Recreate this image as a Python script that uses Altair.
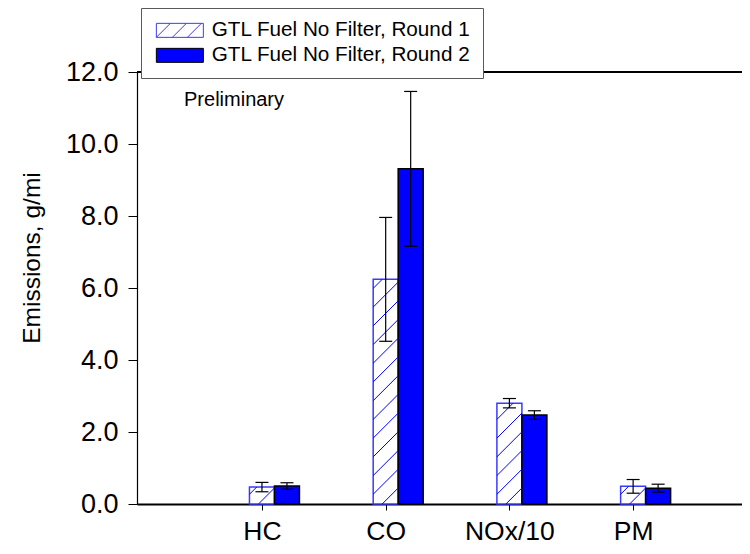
import json
import altair as alt
import pandas as pd

# ---------------- data ----------------
categories = ["HC", "CO", "NOx/10", "PM"]
series = ["GTL Fuel No Filter, Round 1", "GTL Fuel No Filter, Round 2"]
round1 = [0.47, 6.24, 2.80, 0.49]
round1_err = [0.13, 1.72, 0.13, 0.19]
round2 = [0.50, 9.31, 2.47, 0.44]
round2_err = [0.09, 2.15, 0.12, 0.11]
y_ticks = [0, 2, 4, 6, 8, 10, 12]
note = "Preliminary"

rows = []
for i, c in enumerate(categories):
    rows.append({"cat": c, "pos": i + 1, "slot": 0, "series": series[0],
                 "value": round1[i], "err": round1_err[i]})
    rows.append({"cat": c, "pos": i + 1, "slot": 1, "series": series[1],
                 "value": round2[i], "err": round2_err[i]})
df = pd.DataFrame(rows)

# ---------------- style constants ----------------
FONT = "Liberation Sans"
BW = 0.202          # bar width (x units)
CAP = 0.0526        # half width of error-bar caps (x units)
H_STEP = 0.52       # hatch spacing (y units)
H_PHASE = -0.25     # hatch phase (y units)
H_RISE = 0.694      # hatch rise across one bar (y units) -> 45 degrees
BLUE = "#0000ff"
EDGE1 = "#3a3aff"

xs = alt.Scale(domain=[-0.01, 4.88], nice=False, zero=False)
ys = alt.Scale(domain=[0, 12], nice=False)
fill_scale = alt.Scale(domain=series, range=["white", BLUE])
stroke_scale = alt.Scale(domain=series, range=[EDGE1, "black"])

hatch_path = ("M-1,-1H5.714V1H-1Z"
              "M-1,1L1,-1M1.286,1L3.286,-1M3.429,1L5.429,-1")
rect_path = "M-1,-1H5.714V1H-1Z"
shape_scale = alt.Scale(domain=series, range=[hatch_path, rect_path])

label_expr = json.dumps(categories) + "[datum.value - 1]"

x_axis = alt.Axis(values=[1, 2, 3, 4], labelExpr=label_expr, title=None,
                  grid=False, ticks=True, tickSize=6, tickColor="black",
                  tickWidth=1, labelPadding=29, labelBaseline="alphabetic",
                  labelFontSize=26.5,
                  labelFont=FONT, labelColor="black", domainColor="black",
                  domainWidth=2)
y_axis = alt.Axis(values=y_ticks, format=".1f", title="Emissions, g/mi",
                  grid=False, tickSize=9, tickColor="black", tickWidth=1,
                  labelPadding=10, labelFontSize=27, labelFont=FONT,
                  labelColor="black", domainColor="black", domainWidth=1.2,
                  titleFont=FONT, titleFontSize=24.5, titleFontWeight="normal",
                  titleColor="black", titleAngle=270, titleX=-105,
                  titleY=185.5, titleAlign="center", titleBaseline="middle")

leg = alt.Legend(
    orient="none", legendX=4, legendY=-64, title=None,
    labelFont=FONT, labelFontSize=20.7, labelColor="black", labelLimit=400,
    symbolSize=196, symbolStrokeWidth=1, labelOffset=38, rowPadding=3,
    padding=12, strokeColor="#5a5a5a", fillColor="white",
)

base = alt.Chart(df).transform_calculate(
    xl=f"datum.pos - {BW / 2} + datum.slot * {BW}",
).transform_calculate(
    xr=f"datum.xl + {BW}",
    xc=f"datum.xl + {BW / 2}",
    lo="datum.value - datum.err",
    hi="datum.value + datum.err",
).transform_calculate(
    cl=f"datum.xc - {CAP}",
    cr=f"datum.xc + {CAP}",
)

bars = base.mark_rect(strokeWidth=1.5).encode(
    x=alt.X("xl:Q", scale=xs, axis=x_axis),
    x2="xr:Q",
    y=alt.Y("value:Q", scale=ys, axis=y_axis),
    y2=alt.Y2Datum(0),
    fill=alt.Fill("series:N", scale=fill_scale, legend=leg),
    stroke=alt.Stroke("series:N", scale=stroke_scale, legend=leg),
)

hatch = base.transform_filter("datum.slot == 0").transform_calculate(
    ks=f"sequence(0, ceil((datum.value - ({H_PHASE})) / {H_STEP}) + 1)"
).transform_flatten(["ks"]).transform_calculate(
    yl=f"{H_PHASE} + datum.ks * {H_STEP}"
).transform_calculate(
    yr=f"datum.yl + {H_RISE}"
).transform_filter("datum.yl < datum.value && datum.yr > 0").transform_calculate(
    y0="max(datum.yl, 0)",
    y1="min(datum.yr, datum.value)",
).transform_calculate(
    x0=f"datum.xl + (datum.y0 - datum.yl) / {H_RISE} * {BW}",
    x1=f"datum.xl + (datum.y1 - datum.yl) / {H_RISE} * {BW}",
).mark_rule(color=BLUE, strokeWidth=1).encode(
    x=alt.X("x0:Q", scale=xs, axis=x_axis),
    x2="x1:Q",
    y=alt.Y("y0:Q", scale=ys, axis=y_axis),
    y2="y1:Q",
)

err_v = base.mark_rule(color="black", strokeWidth=1.2).encode(
    x=alt.X("xc:Q", scale=xs, axis=x_axis),
    y=alt.Y("lo:Q", scale=ys, axis=y_axis),
    y2="hi:Q",
)

err_caps = base.transform_fold(["lo", "hi"], as_=["end", "yv"]).mark_rule(
    color="black", strokeWidth=1.2
).encode(
    x=alt.X("cl:Q", scale=xs, axis=x_axis),
    x2="cr:Q",
    y=alt.Y("yv:Q", scale=ys, axis=y_axis),
)

top_line = alt.Chart(pd.DataFrame({"top": [y_ticks[-1]]})).mark_rule(
    color="black", strokeWidth=2
).encode(y=alt.Y("top:Q", scale=ys, axis=y_axis))

note_text = alt.Chart(pd.DataFrame({"t": [note]})).mark_text(
    align="left", baseline="alphabetic", font=FONT, fontSize=20, color="black"
).encode(
    x=alt.XDatum(0.37, scale=xs, axis=x_axis),
    y=alt.YDatum(11.06, scale=ys, axis=y_axis),
    text="t:N",
)

legend_layer = base.transform_filter("false").mark_point(
    filled=True, opacity=1, strokeWidth=1
).encode(
    shape=alt.Shape("series:N", scale=shape_scale, legend=leg),
    fill=alt.Fill("series:N", scale=fill_scale, legend=leg),
    stroke=alt.Stroke("series:N", scale=stroke_scale, legend=leg),
)

chart = alt.layer(
    bars, hatch, err_v, err_caps, top_line, note_text, legend_layer
).properties(
    width=605, height=432,
    autosize=alt.AutoSizeParams(type="none"),
    padding={"left": 129, "top": 64, "right": 0, "bottom": 42},
).configure_view(stroke=None).configure(background="white")

chart.save("out.html", embed_options={"renderer": "svg", "actions": False})
